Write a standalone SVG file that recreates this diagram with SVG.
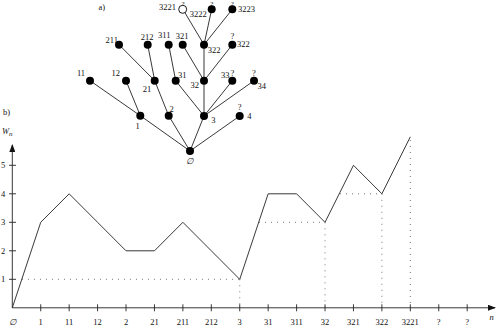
<svg xmlns="http://www.w3.org/2000/svg" width="496" height="325" viewBox="0 0 496 325">
<style>
text{font-family:"Liberation Serif","DejaVu Serif",serif;font-size:8.5px;fill:#111}
.m{text-anchor:middle}
.e{text-anchor:end}
.q{font-size:7px}
.edge{stroke:#222;stroke-width:0.9;fill:none}
.node{fill:#000}
.open{fill:#fff;stroke:#000;stroke-width:0.9}
.axis{stroke:#222;stroke-width:0.9;fill:none}
.curve{stroke:#222;stroke-width:0.9;fill:none;stroke-linejoin:miter}
.dot{stroke:#555;stroke-width:0.8;stroke-dasharray:1 5;fill:none}
</style>
<defs>
<marker id="arr" markerWidth="8" markerHeight="6" refX="7" refY="3" orient="auto" markerUnits="userSpaceOnUse">
<path d="M0,0 L8,3 L0,6 Z" fill="#111"/>
</marker>
</defs>
<text x="101.7" y="10" class="m">a)</text>
<g id="connectors">
<path class="edge" d="M190,151 L140.3,115.7 M190,151 L168.7,115.7 M190,151 L204,116 M190,151 L239.7,116"/>
<path class="edge" d="M140.3,115.7 L90,80.7 M140.3,115.7 L126,80.7 M168.7,115.7 L154.7,80.7"/>
<path class="edge" d="M154.7,80.7 L119,44.7 M154.7,80.7 L147.7,44.7"/>
<path class="edge" d="M204,116 L175.7,80.7 M204,116 L204,80.7 M204,116 L232.3,80.7 M204,116 L254,80.7"/>
<path class="edge" d="M175.7,80.7 L168.7,44.7"/>
<path class="edge" d="M204,80.7 L182.7,44.7 M204,80.7 L204,44.7 M204,80.7 L232.3,44.7"/>
<path class="edge" d="M204,44.7 L184.5,12 M204,44.7 L211.7,9.3 M204,44.7 L232.3,9.3"/>
</g>
<g id="n-root"><circle class="node" cx="190" cy="151" r="4"/><text x="189.5" y="163.5" class="m" font-style="italic">∅</text></g>
<g id="n-1"><circle class="node" cx="140.3" cy="115.7" r="4"/><text x="137.7" y="129" class="m">1</text></g>
<g id="n-2"><circle class="node" cx="168.7" cy="115.7" r="4"/><text x="171.7" y="112" class="m">2</text></g>
<g id="n-3"><circle class="node" cx="204" cy="116" r="4"/><text x="213.3" y="122.5" class="m">3</text></g>
<g id="n-4"><circle class="node" cx="239.7" cy="116" r="4"/><text x="239.7" y="109.5" class="m">?</text><text x="249.3" y="119" class="m">4</text></g>
<g id="n-11"><circle class="node" cx="90" cy="80.7" r="4"/><text x="81" y="75.5" class="m">11</text></g>
<g id="n-12"><circle class="node" cx="126" cy="80.7" r="4"/><text x="115.7" y="75.5" class="m">12</text></g>
<g id="n-21"><circle class="node" cx="154.7" cy="80.7" r="4"/><text x="147" y="92" class="m">21</text></g>
<g id="n-31"><circle class="node" cx="175.7" cy="80.7" r="4"/><text x="182.3" y="78" class="m">31</text></g>
<g id="n-32"><circle class="node" cx="204" cy="80.7" r="4"/><text x="194.7" y="88" class="m">32</text></g>
<g id="n-33"><circle class="node" cx="232.3" cy="80.7" r="4"/><text x="229.5" y="78" class="e">33</text><text x="232.5" y="76" class="m">?</text></g>
<g id="n-34"><circle class="node" cx="254" cy="80.7" r="4"/><text x="254" y="76" class="m">?</text><text x="261.7" y="88.5" class="m">34</text></g>
<g id="n-211"><circle class="node" cx="119" cy="44.7" r="4"/><text x="111.7" y="43" class="m">211</text></g>
<g id="n-212"><circle class="node" cx="147.7" cy="44.7" r="4"/><text x="147" y="40" class="m">212</text></g>
<g id="n-311"><circle class="node" cx="168.7" cy="44.7" r="4"/><text x="164.3" y="38" class="m">311</text></g>
<g id="n-321"><circle class="node" cx="182.7" cy="44.7" r="4"/><text x="182" y="39" class="m">321</text></g>
<g id="n-322"><circle class="node" cx="204" cy="44.7" r="4"/><text x="214" y="53" class="m">322</text></g>
<g id="n-q322"><circle class="node" cx="232.3" cy="44.7" r="4"/><text x="232.3" y="38.5" class="m">?</text><text x="243.3" y="47" class="m">322</text></g>
<g id="n-3221"><circle class="open" cx="182.7" cy="9.3" r="4"/><text x="183" y="5.5" class="m q">?</text><text x="176" y="10" class="e">3221</text></g>
<g id="n-3222"><circle class="node" cx="211.7" cy="9.3" r="4"/><text x="211.7" y="5.5" class="m q">?</text><text x="198.3" y="17" class="m">3222</text></g>
<g id="n-3223"><circle class="node" cx="232.3" cy="9.3" r="4"/><text x="232.3" y="5.5" class="m q">?</text><text x="238" y="12">3223</text></g>

<text x="3" y="115">b)</text>
<text x="2" y="134" font-style="italic" font-size="9.5">W<tspan font-size="7" dy="1.5">n</tspan></text>
<g id="axes">
<path class="axis" d="M12.3,307.8 L12.3,145" marker-end="url(#arr)"/>
<path class="axis" d="M12.3,307.8 L495,307.8" marker-end="url(#arr)"/>
<path class="axis" d="M9,279.3 H16 M9,250.8 H16 M9,222.3 H16 M9,193.8 H16 M9,165.3 H16"/>
<path class="axis" d="M40.73,304.3 V311.3 M69.16,304.3 V311.3 M97.59,304.3 V311.3 M126.02,304.3 V311.3 M154.45,304.3 V311.3 M182.88,304.3 V311.3 M211.31,304.3 V311.3 M239.74,304.3 V311.3 M268.17,304.3 V311.3 M296.6,304.3 V311.3 M325.03,304.3 V311.3 M353.46,304.3 V311.3 M381.89,304.3 V311.3 M410.32,304.3 V311.3 M438.75,304.3 V311.3 M467.18,304.3 V311.3"/>
</g>
<g id="ylabels">
<text x="3" y="282.3" class="m">1</text>
<text x="3" y="253.8" class="m">2</text>
<text x="3" y="225.3" class="m">3</text>
<text x="3" y="196.8" class="m">4</text>
<text x="3" y="168.3" class="m">5</text>
</g>
<g id="xlabels">
<text x="12.3" y="324.5" class="m" font-style="italic">∅</text>
<text x="40.73" y="324.5" class="m">1</text>
<text x="69.16" y="324.5" class="m">11</text>
<text x="97.59" y="324.5" class="m">12</text>
<text x="126.02" y="324.5" class="m">2</text>
<text x="154.45" y="324.5" class="m">21</text>
<text x="182.88" y="324.5" class="m">211</text>
<text x="211.31" y="324.5" class="m">212</text>
<text x="239.74" y="324.5" class="m">3</text>
<text x="268.17" y="324.5" class="m">31</text>
<text x="296.6" y="324.5" class="m">311</text>
<text x="325.03" y="324.5" class="m">32</text>
<text x="353.46" y="324.5" class="m">321</text>
<text x="381.89" y="324.5" class="m">322</text>
<text x="410.32" y="324.5" class="m">3221</text>
<text x="438.75" y="324.5" class="m">?</text>
<text x="467.18" y="324.5" class="m">?</text>
<text x="491.7" y="319.5" class="m" font-style="italic">n</text>
</g>
<g id="dotted">
<path class="dot" d="M22,279.3 H239.74 M239.74,279.3 V307.8"/>
<path class="dot" d="M259,222.3 H325.03 M325.03,222.3 V307.8"/>
<path class="dot" d="M340,193.8 H381.89 M381.89,193.8 V307.8"/>
<path class="dot" d="M410.32,140 V307.8"/>
</g>
<polyline id="curve" class="curve" points="12.3,307.8 40.73,222.3 69.16,193.8 97.59,222.3 126.02,250.8 154.45,250.8 182.88,222.3 211.31,250.8 239.74,279.3 268.17,193.8 296.6,193.8 325.03,222.3 353.46,165.3 381.89,193.8 410.32,136.8"/>
</svg>
